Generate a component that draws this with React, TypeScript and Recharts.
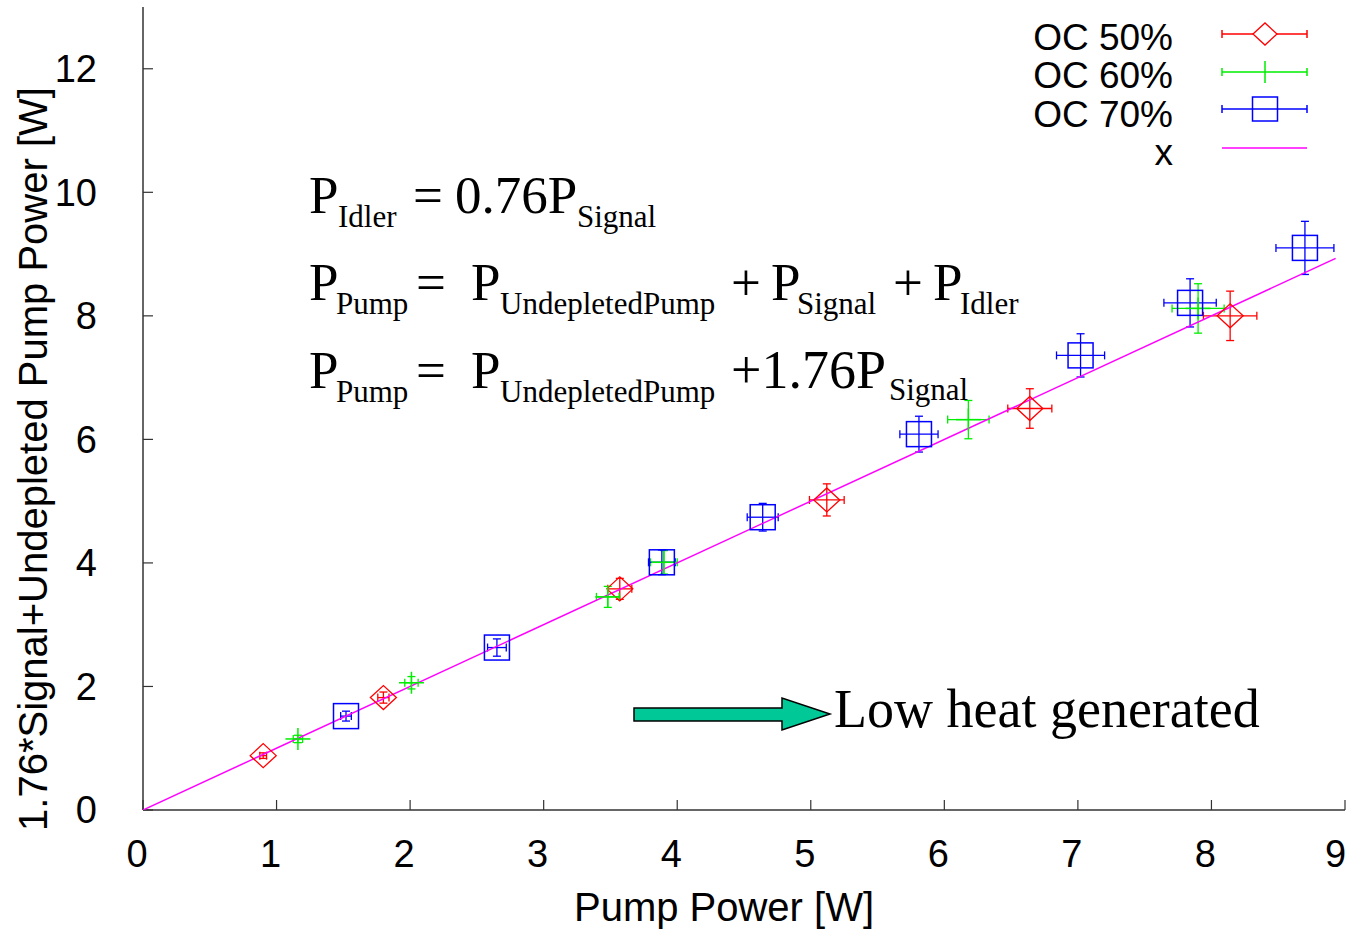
import React from 'react';
import { ScatterChart, Scatter, XAxis, YAxis, ErrorBar } from 'recharts';

// OC 50% (red diamonds)
const oc50X = [0.9, 1.8, 3.57, 5.12, 6.64, 8.14];
const oc50Y = [0.88, 1.82, 3.58, 5.02, 6.5, 8.0];
const oc50Ex = [0.025, 0.042, 0.09, 0.13, 0.165, 0.2];
const oc50Ey = [0.045, 0.09, 0.17, 0.26, 0.32, 0.4];

// OC 60% (green plus)
const oc60X = [1.16, 2.01, 3.48, 3.9, 6.18, 7.9];
const oc60Y = [1.15, 2.06, 3.45, 4.01, 6.32, 8.12];
const oc60Ex = [0.035, 0.05, 0.085, 0.1, 0.155, 0.195];
const oc60Ey = [0.06, 0.1, 0.17, 0.19, 0.31, 0.4];

// OC 70% (blue squares)
const oc70X = [1.52, 2.65, 3.885, 4.64, 5.81, 7.02, 7.84, 8.7];
const oc70Y = [1.52, 2.63, 4.01, 4.74, 6.085, 7.36, 8.21, 9.1];
const oc70Ex = [0.04, 0.07, 0.1, 0.116, 0.143, 0.18, 0.196, 0.217];
const oc70Ey = [0.08, 0.14, 0.2, 0.224, 0.29, 0.35, 0.39, 0.43];

// reference line x
const lineX = [0, 8.93];

const xTicks = [0, 1, 2, 3, 4, 5, 6, 7, 8, 9];
const yTicks = [0, 2, 4, 6, 8, 10, 12];

const toRows = (xs: number[], ys: number[], exs: number[], eys: number[]) =>
  xs.map((x, i) => ({ x, y: ys[i], ex: exs[i], ey: eys[i] }));

const oc50 = toRows(oc50X, oc50Y, oc50Ex, oc50Ey);
const oc60 = toRows(oc60X, oc60Y, oc60Ex, oc60Ey);
const oc70 = toRows(oc70X, oc70Y, oc70Ex, oc70Ey);
const lineData = lineX.map((v) => ({ x: v, y: v }));

const RED = '#ff0000';
const GREEN = '#00ee00';
const BLUE = '#0000ff';
const MAGENTA = '#ff00ff';
const FRAME = '#333333';
const SANS = '"Liberation Sans", Arial, sans-serif';
const SERIF = '"Liberation Serif", "Times New Roman", serif';

const Diamond = ({ cx, cy }: any) => (
  <polygon
    points={`${cx - 13},${cy} ${cx},${cy - 12} ${cx + 13},${cy} ${cx},${cy + 12}`}
    fill="none"
    stroke={RED}
    strokeWidth={1.3}
  />
);

const Plus = ({ cx, cy }: any) => (
  <g stroke={GREEN} strokeWidth={1.5}>
    <line x1={cx - 12.5} y1={cy} x2={cx + 12.5} y2={cy} />
    <line x1={cx} y1={cy - 11} x2={cx} y2={cy + 11} />
  </g>
);

const Square = ({ cx, cy }: any) => (
  <rect x={cx - 12.5} y={cy - 12.5} width={25} height={25} fill="none" stroke={BLUE} strokeWidth={1.5} />
);

const NoDot = () => <g />;

const LegendRow = ({ y, ty, color, label, marker }: { y: number; ty: number; color: string; label: string; marker?: string }) => (
  <g>
    <text x={1173} y={ty} textAnchor="end" fontSize={37} fontFamily={SANS} fill="#000">
      {label}
    </text>
    <line x1={1222} y1={y} x2={1307} y2={y} stroke={color} strokeWidth={1.5} />
    {marker && (
      <g stroke={color} strokeWidth={1.5}>
        <line x1={1222} y1={y - 4} x2={1222} y2={y + 4} />
        <line x1={1307} y1={y - 4} x2={1307} y2={y + 4} />
      </g>
    )}
    {marker === 'diamond' && (
      <polygon
        points={`${1253},${y} ${1265},${y - 11} ${1277},${y} ${1265},${y + 11}`}
        fill="#fff"
        stroke={color}
        strokeWidth={1.3}
      />
    )}
    {marker === 'plus' && <line x1={1265} y1={y - 11} x2={1265} y2={y + 11} stroke={color} strokeWidth={1.5} />}
    {marker === 'square' && (
      <rect x={1252.5} y={y - 12} width={25} height={24} fill="none" stroke={color} strokeWidth={1.5} />
    )}
  </g>
);

const Annotations = () => (
  <svg width={1351} height={931} style={{ position: 'absolute', left: 0, top: 0, pointerEvents: 'none' }}>
    {/* axis titles */}
    <text x={724} y={921} textAnchor="middle" fontSize={40} fontFamily={SANS} fill="#000">
      Pump Power [W]
    </text>
    <text transform="rotate(-90)" x={-459} y={47} textAnchor="middle" fontSize={40} fontFamily={SANS} fill="#000">
      1.76*Signal+Undepleted Pump Power [W]
    </text>

    {/* formulas */}
    <g fontFamily={SERIF} fill="#000">
      <text x={309} y={213} fontSize={53}>P</text>
      <text x={338} y={227} fontSize={31}>Idler</text>
      <text x={413} y={213} fontSize={53}>=</text>
      <text x={455} y={213} fontSize={53}>0.76P</text>
      <text x={577} y={227} fontSize={31}>Signal</text>

      <text x={309} y={300} fontSize={53}>P</text>
      <text x={336} y={314} fontSize={31}>Pump</text>
      <text x={416} y={300} fontSize={53}>=</text>
      <text x={471} y={300} fontSize={53}>P</text>
      <text x={500} y={314} fontSize={31}>UndepletedPump</text>
      <text x={731} y={300} fontSize={53}>+</text>
      <text x={771} y={300} fontSize={53}>P</text>
      <text x={797} y={314} fontSize={31}>Signal</text>
      <text x={893} y={300} fontSize={53}>+</text>
      <text x={933} y={300} fontSize={53}>P</text>
      <text x={960} y={314} fontSize={31}>Idler</text>

      <text x={309} y={388} fontSize={53}>P</text>
      <text x={336} y={402} fontSize={31}>Pump</text>
      <text x={416} y={388} fontSize={53}>=</text>
      <text x={471} y={388} fontSize={53}>P</text>
      <text x={500} y={402} fontSize={31}>UndepletedPump</text>
      <text x={731} y={388} fontSize={54}>+1.76P</text>
      <text x={889} y={400} fontSize={31}>Signal</text>
    </g>

    {/* arrow + note */}
    <polygon
      points="634,708 782,708 782,698 830,714 782,730 782,721 634,721"
      fill="#00c896"
      stroke="#000"
      strokeWidth={1.5}
    />
    <text x={834} y={727} fontSize={54} fontFamily={SERIF} fill="#000">
      Low heat generated
    </text>

    {/* legend */}
    <LegendRow y={34} ty={50} color={RED} label="OC 50%" marker="diamond" />
    <LegendRow y={72} ty={88} color={GREEN} label="OC 60%" marker="plus" />
    <LegendRow y={109} ty={127} color={BLUE} label="OC 70%" marker="square" />
    <LegendRow y={148} ty={165} color={MAGENTA} label="x" />
  </svg>
);

const tickStyle = { fontSize: 38, fill: '#000', fontFamily: SANS };

export default function App() {
  return (
    <div style={{ position: 'absolute', left: 0, top: 0, width: 1351, height: 931, background: '#fff' }}>
      <ScatterChart width={1351} height={931} margin={{ top: 7, right: 6, bottom: 61, left: 0 }}>
        <XAxis
          dataKey="x"
          type="number"
          domain={[0, 9]}
          ticks={xTicks}
          allowDataOverflow
          height={60}
          tickSize={-10}
          tickMargin={40}
          tick={{ ...tickStyle, dx: -6 }}
          axisLine={{ stroke: FRAME, strokeWidth: 1.5 }}
          tickLine={{ stroke: FRAME, strokeWidth: 1.2 }}
        />
        <XAxis
          xAxisId="top"
          orientation="top"
          type="number"
          domain={[0, 9]}
          ticks={xTicks}
          allowDataOverflow
          height={0}
          tickSize={-10}
          tick={false}
          axisLine={{ stroke: FRAME, strokeWidth: 1.5 }}
          tickLine={{ stroke: FRAME, strokeWidth: 1.2 }}
        />
        <YAxis
          dataKey="y"
          type="number"
          domain={[0, 13]}
          ticks={yTicks}
          allowDataOverflow
          width={143}
          tickSize={-10}
          tickMargin={56}
          tick={tickStyle}
          axisLine={{ stroke: FRAME, strokeWidth: 1.5 }}
          tickLine={{ stroke: FRAME, strokeWidth: 1.2 }}
        />
        <YAxis
          yAxisId="right"
          orientation="right"
          type="number"
          domain={[0, 13]}
          ticks={yTicks}
          allowDataOverflow
          width={0}
          tickSize={-10}
          tick={false}
          axisLine={{ stroke: FRAME, strokeWidth: 1.5 }}
          tickLine={{ stroke: FRAME, strokeWidth: 1.2 }}
        />
        <Scatter
          name="x"
          data={lineData}
          line={{ stroke: MAGENTA, strokeWidth: 1.5 }}
          shape={NoDot}
          isAnimationActive={false}
        />
        <Scatter name="OC 50%" data={oc50} shape={Diamond} isAnimationActive={false}>
          <ErrorBar dataKey="ex" direction="x" width={4} stroke={RED} strokeWidth={1.3} isAnimationActive={false} />
          <ErrorBar dataKey="ey" direction="y" width={4} stroke={RED} strokeWidth={1.3} isAnimationActive={false} />
        </Scatter>
        <Scatter name="OC 60%" data={oc60} shape={Plus} isAnimationActive={false}>
          <ErrorBar dataKey="ex" direction="x" width={4} stroke={GREEN} strokeWidth={1.3} isAnimationActive={false} />
          <ErrorBar dataKey="ey" direction="y" width={4} stroke={GREEN} strokeWidth={1.3} isAnimationActive={false} />
        </Scatter>
        <Scatter name="OC 70%" data={oc70} shape={Square} isAnimationActive={false}>
          <ErrorBar dataKey="ex" direction="x" width={4} stroke={BLUE} strokeWidth={1.3} isAnimationActive={false} />
          <ErrorBar dataKey="ey" direction="y" width={4} stroke={BLUE} strokeWidth={1.3} isAnimationActive={false} />
        </Scatter>
      </ScatterChart>
      <Annotations />
    </div>
  );
}
